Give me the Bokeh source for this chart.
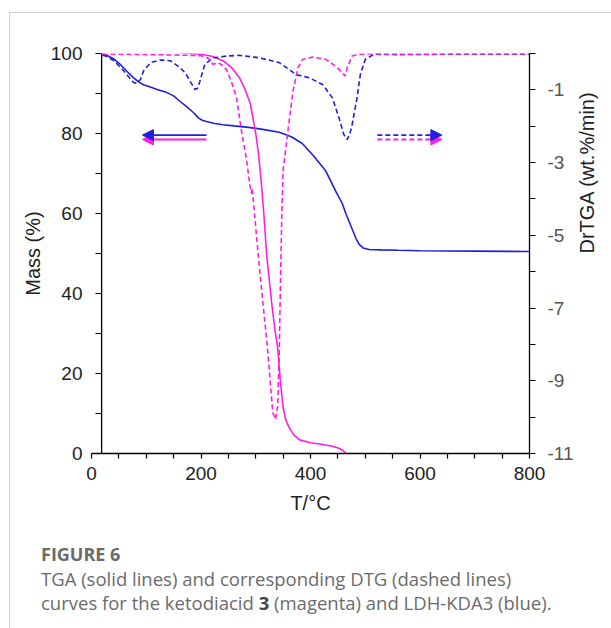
import math
from bokeh.plotting import figure
from bokeh.models import (Range1d, LinearAxis, FixedTicker, Span, Arrow, NormalHead,
                          CustomJSTickFormatter, Div)
from bokeh.layouts import column
from bokeh.embed import file_html
from bokeh.resources import INLINE

# ---------------- data ----------------
# TGA, LDH-KDA3 (blue, solid)
tga_blue_T = [20, 26, 40, 53, 65, 77, 86, 95, 110, 120, 135, 150, 162, 172, 180, 188,
              195, 202, 210, 225, 240, 260, 283, 310, 343, 365, 385, 405, 428, 446,
              458, 465, 472, 477, 483, 489, 496, 507, 530, 561, 600, 700, 800]
tga_blue_M = [100, 99.7, 98.7, 97.2, 95.5, 93.9, 92.9, 92.2, 91.5, 91.0, 90.4, 89.4,
              88.0, 86.9, 86.0, 85.0, 83.9, 83.3, 83.0, 82.5, 82.2, 81.9, 81.6, 81.1,
              80.3, 79.2, 77.5, 74.5, 70.6, 65.6, 62.5, 59.8, 57.5, 55.8, 53.8, 52.3,
              51.4, 51.0, 50.9, 50.8, 50.7, 50.6, 50.5]

# TGA, ketodiacid 3 (magenta, solid)
tga_mag_T = [20, 60, 100, 150, 200, 220, 240, 255, 270, 280, 290, 300, 305, 310, 315,
             320, 325, 330, 335, 340, 345, 350, 355, 360, 365, 370, 380, 400, 420, 440,
             452, 460, 465]
tga_mag_M = [100.9, 100.8, 100.6, 100.3, 99.8, 99.3, 98.2, 96.6, 94.0, 91.2, 87.5, 80.0,
             75.0, 68.0, 59.5, 49.5, 43.0, 36.5, 31.0, 26.5, 18.0, 11.5, 8.3, 6.8, 5.6,
             4.6, 3.4, 2.7, 2.3, 1.8, 1.3, 0.7, 0.0]

# DTG, LDH-KDA3 (blue, dashed)
dtg_blue_T = [20, 26, 41, 59, 70, 77, 83, 90, 95, 108, 126, 144, 162, 172, 180, 189,
              194, 198, 207, 222, 247, 270, 307, 343, 374, 398, 422, 440, 452, 461,
              467, 472, 476, 485, 491, 500, 516, 560, 650, 800]
dtg_blue_D = [-0.05, -0.07, -0.2, -0.48, -0.68, -0.8, -0.82, -0.7, -0.48, -0.25, -0.18,
              -0.2, -0.39, -0.55, -0.76, -0.99, -0.95, -0.76, -0.3, -0.12, -0.07, -0.05,
              -0.12, -0.25, -0.58, -0.67, -0.85, -1.22, -1.77, -2.23, -2.37, -2.2, -1.96,
              -1.22, -0.58, -0.16, -0.02, -0.03, -0.02, -0.02]

# DTG, ketodiacid 3 (magenta, dashed)
dtg_mag_T = [20, 60, 100, 150, 200, 212, 222, 230, 237, 247, 256, 265, 274, 283, 289,
             292, 293.5, 296, 304, 313, 322, 331, 336, 340, 343, 345, 347.5, 350, 355,
             359, 368, 377, 386, 404, 428, 446, 458, 463, 467, 476, 488, 520, 600, 700,
             800]
dtg_mag_D = [-0.02, -0.02, -0.03, -0.04, -0.06, -0.12, -0.3, -0.25, -0.3, -0.45, -0.8,
             -1.22, -2.14, -2.9, -3.6, -3.85, -3.7, -4.1, -5.46, -6.84, -8.2, -9.87,
             -10.06, -9.7, -8.2, -6.4, -4.5, -3.2, -2.6, -2.1, -1.04, -0.39, -0.16, -0.1,
             -0.16, -0.35, -0.53, -0.62, -0.39, -0.07, -0.02, -0.01, -0.02, -0.01, -0.01]

# axis ticks
x_ticks = [0, 200, 400, 600, 800]
x_minor = [50, 100, 150, 250, 300, 350, 450, 500, 550, 650, 700, 750]
mass_ticks = [0, 20, 40, 60, 80, 100]
mass_minor = [10, 30, 50, 70, 90]
dtg_ticks = [-1, -3, -5, -7, -9, -11]
dtg_minor = [0, -2, -4, -6, -8, -10]

# arrow annotations (T from, T to, mass level)
arrow_left_T = [210, 93]
arrow_right_T = [522, 640]
arrow_mass_blue = 79.6
arrow_mass_mag = 78.5

BLUE = "#1f1fe0"
MAG = "#ff1ee6"
FONT = "Liberation Sans"
CAP_COLOR = "#6b6b6b"

# ---------------- figure ----------------
p = figure(width=601, height=517, x_range=Range1d(0, 800), y_range=Range1d(0, 100),
           output_backend="svg", toolbar_location=None,
           min_border_left=81, min_border_right=79, min_border_top=40,
           min_border_bottom=77)
p.outline_line_color = None
p.grid.visible = False
p.background_fill_color = "white"
p.border_fill_color = "white"
p.extra_y_ranges = {"dtg": Range1d(-11, 0)}

# bottom axis
xa = p.xaxis[0]
xa.ticker = FixedTicker(ticks=x_ticks, minor_ticks=x_minor)
xa.axis_line_width = 1.3
xa.major_tick_out = 5
xa.major_tick_in = 0
xa.minor_tick_out = 5
xa.minor_tick_in = 0
xa.major_tick_line_width = 1.2
xa.minor_tick_line_width = 1.2
xa.major_label_standoff = 8
xa.major_label_text_font = FONT
xa.major_label_text_font_size = "19px"
xa.major_label_text_color = "#222222"
xa.axis_label = "T/°C"
xa.axis_label_standoff = 9
xa.axis_label_text_font = FONT
xa.axis_label_text_font_size = "20px"
xa.axis_label_text_font_style = "normal"
xa.axis_label_text_color = "#222222"

# left axis (spine drawn separately at T ~ 19)
ya = p.yaxis[0]
ya.ticker = FixedTicker(ticks=mass_ticks, minor_ticks=mass_minor)
ya.axis_line_color = None
ya.major_tick_in = 10
ya.major_tick_out = -4
ya.minor_tick_in = 10
ya.minor_tick_out = -4
ya.major_tick_line_width = 1.2
ya.minor_tick_line_width = 1.2
ya.major_label_standoff = 13
ya.major_label_text_font = FONT
ya.major_label_text_font_size = "19px"
ya.major_label_text_color = "#222222"
ya.axis_label = "Mass (%)"
ya.axis_label_standoff = 4
ya.axis_label_text_font = FONT
ya.axis_label_text_font_size = "20px"
ya.axis_label_text_font_style = "normal"
ya.axis_label_text_color = "#222222"
p.add_layout(Span(location=18.5, dimension="height", line_color="black", line_width=1.3))

# right axis
ra = LinearAxis(y_range_name="dtg", ticker=FixedTicker(ticks=dtg_ticks, minor_ticks=dtg_minor),
                formatter=CustomJSTickFormatter(code="return String(tick)"))
ra.axis_line_width = 1.3
ra.major_tick_out = 6
ra.major_tick_in = 0
ra.minor_tick_out = 6
ra.minor_tick_in = 0
ra.major_tick_line_width = 1.2
ra.minor_tick_line_width = 1.2
ra.major_label_standoff = 12
ra.major_label_text_font = FONT
ra.major_label_text_font_size = "19px"
ra.major_label_text_color = "#555555"
ra.axis_label = "DrTGA (wt.%/min)"
ra.axis_label_standoff = 10
ra.axis_label_text_font = FONT
ra.axis_label_text_font_size = "20px"
ra.axis_label_text_font_style = "normal"
ra.axis_label_text_color = "#222222"
if "axis_label_orientation" in ra.properties():
    ra.axis_label_orientation = math.pi / 2
p.add_layout(ra, "right")

# curves
p.line(tga_blue_T, tga_blue_M, color=BLUE, line_width=1.6)
p.line(tga_mag_T, tga_mag_M, color=MAG, line_width=1.6)
p.line(dtg_blue_T, dtg_blue_D, color=BLUE, line_width=1.6, line_dash="5 3", y_range_name="dtg")
p.line(dtg_mag_T, dtg_mag_D, color=MAG, line_width=1.6, line_dash="5 3", y_range_name="dtg")

# arrows
def arrow(T, m, color, dash):
    return Arrow(x_start=T[0], y_start=m, x_end=T[1], y_end=m, line_color=color,
                 line_width=1.8, line_dash=dash,
                 end=NormalHead(size=11, fill_color=color, line_color=color))

p.add_layout(arrow(arrow_left_T, arrow_mass_mag, MAG, "solid"))
p.add_layout(arrow(arrow_left_T, arrow_mass_blue, BLUE, "solid"))
p.add_layout(arrow(arrow_right_T, arrow_mass_mag, MAG, "5 3"))
p.add_layout(arrow(arrow_right_T, arrow_mass_blue, BLUE, "5 3"))

# caption
caption_html = (
    '<div style="font-family:\'Open Sans\',sans-serif;color:%s;padding:7px 0 0 26px;">'
    '<div style="font-size:18px;font-weight:700;line-height:25px;">FIGURE 6</div>'
    '<div style="font-size:18.5px;line-height:24px;white-space:nowrap;">'
    'TGA (solid lines) and corresponding DTG (dashed lines)<br>'
    'curves for the ketodiacid <b style="color:#444444;">3</b> (magenta) and LDH-KDA3 (blue).'
    '</div></div>' % CAP_COLOR)
cap = Div(text=caption_html, width=601, height=98)

layout = column(p, cap, spacing=0,
                styles={"border-left": "1px solid #d0d0d0", "border-top": "1px solid #d0d0d0",
                        "margin-top": "12px", "margin-left": "9px"})

open("out.html", "w").write(file_html(layout, INLINE))
